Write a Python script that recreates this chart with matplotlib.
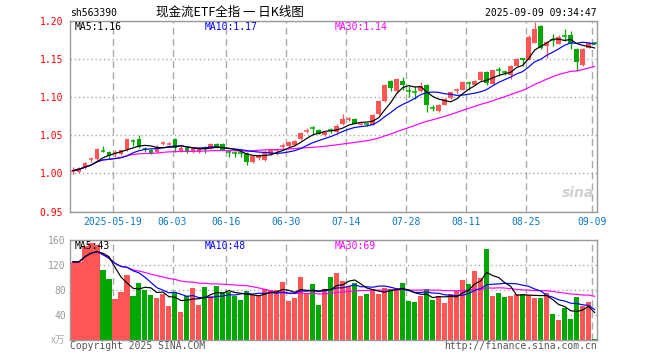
import numpy as np
import pandas as pd
import matplotlib
matplotlib.use("Agg")
import matplotlib.pyplot as plt

plt.rcParams['font.family'] = ['DejaVu Sans Mono', 'Noto Sans CJK SC']

# ------------------------------------------------------------------
# Daily candles, 2025-05-08 .. 2025-09-09
# ------------------------------------------------------------------
opens = [1.0030, 1.0020, 1.0070, 1.0180, 1.0190, 1.0305, 1.0280, 1.0261, 1.0255, 1.0300,
         1.0428, 1.0452, 1.0318, 1.0307, 1.0285, 1.0393, 1.0384, 1.0452, 1.0294, 1.0338,
         1.0276, 1.0280, 1.0332, 1.0329, 1.0380, 1.0390, 1.0280, 1.0265, 1.0266, 1.0263,
         1.0153, 1.0197, 1.0175, 1.0250, 1.0298, 1.0357, 1.0360, 1.0368, 1.0447, 1.0555,
         1.0595, 1.0570, 1.0505, 1.0572, 1.0548, 1.0649, 1.0708, 1.0710, 1.0640, 1.0647,
         1.0636, 1.0776, 1.0943, 1.1206, 1.1083, 1.1206, 1.1077, 1.1077, 1.1075, 1.1162,
         1.0857, 1.0811, 1.0899, 1.0987, 1.1086, 1.1096, 1.1195, 1.1162, 1.1220, 1.1325,
         1.1175, 1.1352, 1.1327, 1.1294, 1.1412, 1.1505, 1.1490, 1.1711, 1.1930, 1.1667,
         1.1757, 1.1700, 1.1802, 1.1807, 1.1632, 1.1425, 1.1645, 1.1712]
highs = [1.0088, 1.0080, 1.0155, 1.0210, 1.0330, 1.0360, 1.0298, 1.0300, 1.0310, 1.0453,
         1.0450, 1.0504, 1.0345, 1.0320, 1.0373, 1.0420, 1.0410, 1.0460, 1.0355, 1.0355,
         1.0340, 1.0340, 1.0360, 1.0395, 1.0400, 1.0400, 1.0307, 1.0290, 1.0316, 1.0285,
         1.0240, 1.0250, 1.0300, 1.0320, 1.0329, 1.0400, 1.0425, 1.0435, 1.0540, 1.0590,
         1.0623, 1.0580, 1.0560, 1.0590, 1.0650, 1.0780, 1.0733, 1.0720, 1.0660, 1.0660,
         1.0780, 1.0965, 1.1170, 1.1228, 1.1250, 1.1263, 1.1140, 1.1140, 1.1193, 1.1170,
         1.0899, 1.0910, 1.0985, 1.1070, 1.1120, 1.1210, 1.1206, 1.1220, 1.1335, 1.1338,
         1.1360, 1.1390, 1.1350, 1.1425, 1.1510, 1.1510, 1.1807, 1.1982, 1.1939, 1.1728,
         1.1820, 1.1807, 1.1895, 1.1864, 1.1645, 1.1645, 1.1720, 1.1720]
lows = [0.9991, 1.0010, 1.0060, 1.0153, 1.0180, 1.0275, 1.0184, 1.0220, 1.0240, 1.0290,
        1.0360, 1.0338, 1.0280, 1.0250, 1.0272, 1.0370, 1.0365, 1.0285, 1.0280, 1.0270,
        1.0260, 1.0265, 1.0272, 1.0320, 1.0330, 1.0300, 1.0219, 1.0220, 1.0219, 1.0110,
        1.0140, 1.0180, 1.0160, 1.0240, 1.0241, 1.0310, 1.0350, 1.0360, 1.0440, 1.0530,
        1.0504, 1.0510, 1.0495, 1.0535, 1.0530, 1.0636, 1.0680, 1.0640, 1.0630, 1.0625,
        1.0630, 1.0768, 1.0935, 1.1075, 1.1070, 1.1096, 1.1000, 1.0974, 1.1061, 1.0798,
        1.0811, 1.0805, 1.0890, 1.0980, 1.1055, 1.1090, 1.1096, 1.1155, 1.1210, 1.1162,
        1.1170, 1.1280, 1.1290, 1.1237, 1.1400, 1.1405, 1.1482, 1.1702, 1.1632, 1.1513,
        1.1667, 1.1690, 1.1733, 1.1632, 1.1338, 1.1412, 1.1640, 1.1695]
closes = [1.0035, 1.0070, 1.0140, 1.0188, 1.0325, 1.0298, 1.0228, 1.0265, 1.0300, 1.0447,
          1.0423, 1.0351, 1.0313, 1.0263, 1.0351, 1.0397, 1.0388, 1.0333, 1.0338, 1.0285,
          1.0330, 1.0325, 1.0328, 1.0386, 1.0342, 1.0307, 1.0276, 1.0261, 1.0262, 1.0153,
          1.0228, 1.0241, 1.0285, 1.0307, 1.0302, 1.0361, 1.0412, 1.0425, 1.0535, 1.0559,
          1.0590, 1.0518, 1.0548, 1.0568, 1.0623, 1.0710, 1.0712, 1.0649, 1.0645, 1.0643,
          1.0768, 1.0943, 1.1162, 1.1118, 1.1241, 1.1153, 1.1073, 1.1072, 1.1140, 1.0899,
          1.0853, 1.0899, 1.0974, 1.1061, 1.1090, 1.1193, 1.1190, 1.1206, 1.1325, 1.1184,
          1.1350, 1.1348, 1.1323, 1.1412, 1.1500, 1.1490, 1.1790, 1.1886, 1.1645, 1.1720,
          1.1752, 1.1790, 1.1798, 1.1710, 1.1456, 1.1632, 1.1711, 1.1705]
# volume, unit 万
volumes = [125, 125, 150, 155, 152, 112, 97.6, 65.6, 77, 104,
           70, 91, 80, 72, 67, 73.6, 54, 76, 45, 70,
           83, 56, 85, 70, 86, 77, 77, 70, 64, 78,
           72, 70, 82, 80, 80, 93, 62, 67, 101, 74,
           90, 56, 82, 101, 107, 95, 86, 91, 70, 74,
           82, 74, 83, 82, 82, 91, 62, 61, 70, 82,
           64, 70, 59, 74, 78, 96, 90, 110, 99, 146,
           70, 75, 69, 70, 74, 74, 72, 67, 68, 75,
           42, 32, 51, 34, 69, 54, 61, 1.6]

tick_idx = [7, 17, 26, 36, 46, 56, 66, 76, 87]
tick_labels = ['2025-05-19', '06-03', '06-16', '06-30', '07-14',
               '07-28', '08-11', '08-25', '09-09']

RED = '#ff5555'
GREEN = '#00a800'
GRID = '#aaaaaa'
W, H = 660, 360

o = np.array(opens)
hi = np.array(highs)
lo = np.array(lows)
c = np.array(closes)
v = np.array(volumes)
x = np.arange(len(c))
up = c >= o
cols = np.array([RED if u else GREEN for u in up])

cs = pd.Series(c)
vs = pd.Series(v)
ma = {n: cs.rolling(n, min_periods=1).mean().values for n in (5, 10, 30)}
vma = {n: vs.rolling(n, min_periods=1).mean().values for n in (5, 10, 30)}
ma_cols = {5: 'black', 10: '#0000ff', 30: '#ff00ff'}


def px_box(left, top, right, bottom):
    return [left / W, 1 - bottom / H, (right - left) / W, (bottom - top) / H]


fig = plt.figure(figsize=(6.6, 3.6), dpi=100)
ax = fig.add_axes(px_box(70, 20.7, 597, 211.5))
ax2 = fig.add_axes(px_box(70, 240, 597, 340))

tick_pos = [t - 0.4 for t in tick_idx]
for a in (ax, ax2):
    a.set_xlim(-0.5, 87.4)
    a.set_xticks(tick_pos)
    a.set_axisbelow(True)
    a.grid(axis='x', color=GRID, linestyle=(0, (5, 3)), linewidth=1)
    a.grid(axis='y', color=GRID, linestyle=(0, (1, 2)), linewidth=1)
    for s in a.spines.values():
        s.set_color('#999999')
        s.set_linewidth(1)
    a.tick_params(length=0)

# ---------------- candles ----------------
ax.vlines(x, lo, hi, colors=cols, linewidth=0.9)
body = np.abs(c - o)
doji = body < 0.0009
ax.bar(x[~doji], body[~doji], bottom=np.minimum(o, c)[~doji], width=0.8,
       color=cols[~doji], linewidth=0)
ax.hlines(c[doji], x[doji] - 0.4, x[doji] + 0.4, colors=cols[doji], linewidth=1.1)
for n in (30, 10, 5):
    ax.plot(x, ma[n], color=ma_cols[n], linewidth=0.85)

ax.set_ylim(0.95, 1.20)
ax.set_yticks([0.95, 1.00, 1.05, 1.10, 1.15, 1.20])
ax.set_yticklabels([f'{t:.2f}' for t in ax.get_yticks()], color='red', fontsize=7)
ax.set_xticklabels(tick_labels, color='#0a78c8', fontsize=7)
ax.tick_params(axis='y', pad=5)
ax.tick_params(axis='x', pad=4)

ax.text(5 / 527, 0.965, f'MA5:{ma[5][-1]:.2f}', transform=ax.transAxes,
        fontsize=7, va='center', color='black')
ax.text(135 / 527, 0.965, f'MA10:{ma[10][-1]:.2f}', transform=ax.transAxes,
        fontsize=7, va='center', color='#0000ff')
ax.text(265 / 527, 0.965, f'MA30:{ma[30][-1]:.2f}', transform=ax.transAxes,
        fontsize=7, va='center', color='#ff00ff')
ax.text(0.995, 0.06, 'sina', transform=ax.transAxes, ha='right', va='bottom',
        fontsize=10, fontstyle='italic', fontweight='bold', color='#d0d0d0',
        family='DejaVu Sans')

# ---------------- volume ----------------
ax2.bar(x, v, width=0.85, color=cols, linewidth=0)
for n in (30, 10, 5):
    ax2.plot(x, vma[n], color=ma_cols[n], linewidth=0.85)
ax2.set_ylim(0, 160)
ax2.set_yticks([0, 40, 80, 120, 160])
ax2.set_yticklabels(['', '40', '80', '120', '160'], color='#999999', fontsize=7)
ax2.tick_params(axis='y', pad=3)
ax2.set_xticklabels([])
ax2.text(-0.008, 0.0, 'x万', transform=ax2.transAxes, ha='right', va='center',
         fontsize=7, color='#aaaaaa', family=['Noto Sans CJK SC', 'DejaVu Sans'])

ax2.text(5 / 527, 0.94, f'MA5:{int(vma[5][-1])}', transform=ax2.transAxes,
         fontsize=7, va='center', color='black')
ax2.text(135 / 527, 0.94, f'MA10:{int(vma[10][-1])}', transform=ax2.transAxes,
         fontsize=7, va='center', color='#0000ff')
ax2.text(265 / 527, 0.94, f'MA30:{int(vma[30][-1])}', transform=ax2.transAxes,
         fontsize=7, va='center', color='#ff00ff')

# ---------------- header / footer ----------------
fig.text(70 / W, 1 - 13 / H, 'sh563390', fontsize=7, va='center', ha='left')
fig.text(230 / W, 1 - 12.5 / H, '现金流ETF全指 一 日K线图', fontsize=9, va='center',
         ha='center', family=['Noto Sans CJK SC', 'DejaVu Sans'])
fig.text(597 / W, 1 - 13 / H, '2025-09-09 09:34:47', fontsize=7, va='center', ha='right')
fig.text(70 / W, 1 - 346 / H, 'Copyright 2025 SINA.COM', fontsize=7,
         va='center', ha='left', color='#555555')
fig.text(597 / W, 1 - 346 / H, 'http://finance.sina.com.cn', fontsize=7,
         va='center', ha='right', color='#555555')

fig.savefig('out.png', dpi=100)
